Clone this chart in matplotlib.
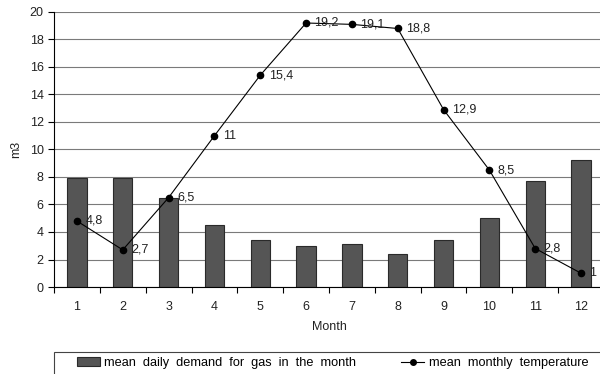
import matplotlib
matplotlib.use("Agg")
import matplotlib.pyplot as plt
from matplotlib.patches import Rectangle
from matplotlib.lines import Line2D
from matplotlib.patches import Patch
import numpy as np

months = [1, 2, 3, 4, 5, 6, 7, 8, 9, 10, 11, 12]
gas_demand = [7.9, 7.9, 6.5, 4.5, 3.4, 3.0, 3.1, 2.4, 3.4, 5.0, 7.7, 9.2]
temperature = [4.8, 2.7, 6.5, 11, 15.4, 19.2, 19.1, 18.8, 12.9, 8.5, 2.8, 1]
temp_labels = ["4,8", "2,7", "6,5", "11", "15,4", "19,2", "19,1", "18,8", "12,9", "8,5", "2,8", "1"]
yticks = [0, 2, 4, 6, 8, 10, 12, 14, 16, 18, 20]

plt.rcParams['font.family'] = ['Liberation Sans', 'DejaVu Sans']
plt.rcParams['font.size'] = 9

fig = plt.figure(figsize=(6, 3.74), dpi=100)
ax = fig.add_axes([54/600, 1-287/374, 550/600, 275/374])

x = np.array(months)
ax.bar(x, gas_demand, width=0.42, color='#555555', edgecolor='#2a2a2a', linewidth=0.8, zorder=2)
ax.plot(x, temperature, color='black', linewidth=0.8, marker='o', markersize=4.5, zorder=3)
for xi, yi, lab in zip(x, temperature, temp_labels):
    ax.annotate(lab, (xi, yi), xytext=(6, 0), textcoords='offset points',
                ha='left', va='center', fontsize=9, color='#222222', zorder=4)

ax.set_xlim(0.5, 12.5)
ax.set_ylim(0, 20)
ax.set_yticks(yticks)
ax.set_xticks(x)
ax.set_xticks(np.arange(0.5, 13, 1), minor=True)
ax.tick_params(axis='x', which='major', length=0, pad=10, labelsize=9)
ax.tick_params(axis='x', which='minor', length=4, direction='out', width=0.8)
ax.tick_params(axis='y', which='major', length=4, direction='out', width=0.8, labelsize=9)
ax.tick_params(axis='both', colors='black', labelcolor='#222222')
ax.grid(axis='y', color='#7a7a7a', linewidth=0.8, zorder=0)
ax.set_axisbelow(True)
for s in ['top', 'right']:
    ax.spines[s].set_visible(False)
ax.spines['left'].set_linewidth(0.8)
ax.spines['bottom'].set_linewidth(0.8)

ax.set_xlabel('Month', fontsize=9, labelpad=6, color='#222222')
ax.set_ylabel('m3', fontsize=9, labelpad=5, color='#222222')

# legend frame (extends beyond the figure, as in the reference)
fig.patches.append(Rectangle((54/600, -0.1), 0.95, (374-352)/374 + 0.1,
                             transform=fig.transFigure, fill=False,
                             edgecolor='#444444', linewidth=0.8))

handles = [Patch(facecolor='#555555', edgecolor='#2a2a2a', linewidth=0.8),
           Line2D([0], [0], color='black', linewidth=0.8, marker='o', markersize=4)]
labels = ['mean  daily  demand  for  gas  in  the  month', 'mean  monthly  temperature']
fig.legend(handles, labels, loc='center left', bbox_to_anchor=(77/600, 1-363/374),
           ncol=2, frameon=False, fontsize=9.2, handlelength=1.8, handleheight=0.7,
           handletextpad=0.35, columnspacing=3.5, borderpad=0, borderaxespad=0)

fig.savefig('out.png', dpi=100)
